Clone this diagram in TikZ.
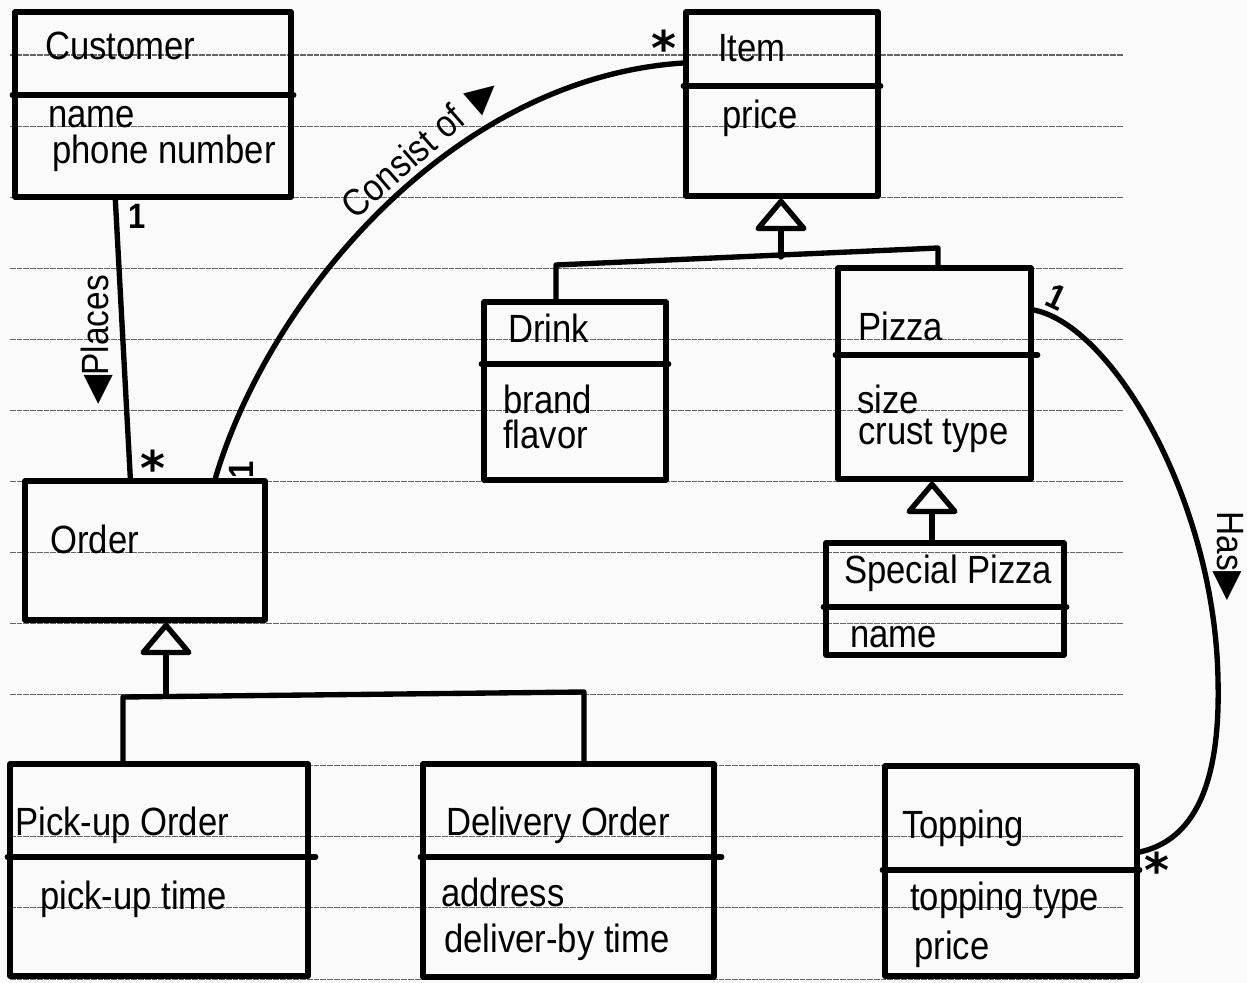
\documentclass[tikz,border=0pt]{standalone}
\usepackage{fontspec}
\setmainfont{Liberation Sans}[FakeStretch=0.88]
\newfontfamily\symf{DejaVu Sans}
\usetikzlibrary{fit,calc,arrows.meta}
\begin{document}
\begin{tikzpicture}[x=0.025cm,y=-0.025cm,
  cls/.style={draw, line width=3.8pt, inner sep=0pt, line join=round},
  div/.style={line width=3.8pt, line cap=round},
  conn/.style={line width=3.8pt, line cap=round, line join=round},
  gen/.style={conn, -{Triangle[open,round,length=0.85cm,width=1.4cm]}},
  lbl/.style={anchor=base west, inner sep=0pt, font=\fontsize{28}{30}\selectfont},
  role/.style={inner sep=0pt, font=\fontsize{27}{29}\selectfont},
  mult/.style={inner sep=0pt, font=\bfseries\fontsize{25}{27}\selectfont},
  star/.style={inner sep=0pt, anchor=north, font=\symf\bfseries\fontsize{34}{36}\selectfont},
  rule/.style={black!60, line width=0.75pt, dash pattern=on 4pt off 0.8pt}]
\useasboundingbox[fill=black!2] (0,0) rectangle (1247,983);
% ruled paper
\foreach \k in {0,...,13} \draw[rule] (10,{55+71.08*\k}) -- (1123,{55+71.08*\k});
% helper y levels
\coordinate (y63) at (0,63);
\coordinate (y310) at (0,310);
\coordinate (y852) at (0,852);
% classes
\node[cls, fit={(15,12) (291,197)}] (customer) {};
\draw[div] (customer.west |- 0,95) -- (customer.east |- 0,95);
\node[lbl] (customerN) at (45,60) {Customer};
\node[lbl] (customerA1) at (48,128) {name};
\node[lbl] (customerA2) at (52,164) {phone number};

\node[cls, fit={(686,12) (878,196)}] (item) {};
\draw[div] (item.west |- 0,86) -- (item.east |- 0,86);
\node[lbl] (itemN) at (718,62) {Item};
\node[lbl] (itemA1) at (722,129) {price};

\node[cls, fit={(484,302) (666,480)}] (drink) {};
\draw[div] (drink.west |- 0,364) -- (drink.east |- 0,364);
\node[lbl] (drinkN) at (508,343) {Drink};
\node[lbl] (drinkA1) at (503,413) {brand};
\node[lbl] (drinkA2) at (503,448) {flavor};

\node[cls, fit={(838,268) (1031,479)}] (pizza) {};
\draw[div] (pizza.west |- 0,355) -- ($(pizza.east |- 0,355)+(4,0)$);
\node[lbl] (pizzaN) at (858,341) {Pizza};
\node[lbl] (pizzaA1) at (857,413) {size};
\node[lbl] (pizzaA2) at (858,444) {crust type};

\node[cls, fit={(826,543) (1064,655)}] (special) {};
\draw[div] (special.west |- 0,607) -- (special.east |- 0,607);
\node[lbl] (specialN) at (844,583) {Special Pizza};
\node[lbl] (specialA1) at (850,647) {name};

\node[cls, fit={(25,481) (265,620)}] (order) {};
\node[lbl] (orderN) at (50,553) {Order};

\node[cls, fit={(10,764) (308,976)}] (pickup) {};
\draw[div] (pickup.west |- 0,857) -- ($(pickup.east |- 0,857)+(5,0)$);
\node[lbl] (pickupN) at (15,835) {Pick-up Order};
\node[lbl] (pickupA1) at (40,909) {pick-up time};

\node[cls, fit={(423,764) (714,977)}] (delivery) {};
\draw[div] (delivery.west |- 0,857) -- ($(delivery.east |- 0,857)+(5,0)$);
\node[lbl] (deliveryN) at (446,835) {Delivery Order};
\node[lbl] (deliveryA1) at (441,906) {address};
\node[lbl] (deliveryA2) at (444,952) {deliver-by time};

\node[cls, fit={(885,766) (1137,976)}] (topping) {};
\draw[div] (topping.west |- 0,870) -- (topping.east |- 0,870);
\node[lbl] (toppingN) at (902,838) {Topping};
\node[lbl] (toppingA1) at (910,910) {topping type};
\node[lbl] (toppingA2) at (914,959) {price};

% generalizations
\coordinate (ogJ) at (166,696);
\coordinate (ogL) at (123,697);
\coordinate (ogR) at (584,692);
\draw[gen] (ogJ) -- (order.south -| ogJ);
\draw[conn] (pickup.north -| ogL) -- (ogL) -- (ogR) -- (delivery.north -| ogR);

\coordinate (igJ) at (781,257);
\coordinate (igL) at (556,265);
\coordinate (igR) at (938,248);
\draw[gen] (igJ) -- (item.south -| igJ);
\draw[conn] (drink.north -| igL) -- (igL) -- (igR) -- (pizza.north -| igR);

\coordinate (pgJ) at (932,543);
\draw[gen] (special.north -| pgJ) -- (pizza.south -| pgJ);

% associations
\draw[conn] ($(customer.south west)+(103,0)$) -- ($(order.north west)+(108,0)$);
\node[mult] (m1) at (137,216) {1};
\node[star] (m2) at (153,450) {*};
\node[role, rotate=90] (places) at (97,340) {{\symf ◀}Places};

\draw[conn] ($(order.north west)+(193,0)$) .. controls (268,300) and (450,78) .. (item.west |- y63);
\node[mult, rotate=90] (m3) at (241,470) {1};
\node[star] (m4) at (664,30) {*};
\node[role, rotate=41] (consist) at (421,148) {Consist of\, {\symf ▶}};

\draw[conn] (pizza.east |- y310) .. controls (1112,325) and (1215,500) .. (1218,680) .. controls (1221,800) and (1185,842) .. (topping.east |- y852);
\node[mult, rotate=-25] (m5) at (1056,297) {1};
\node[star] (m6) at (1157,852) {*};
\node[role, rotate=-90] (has) at (1228,556) {Has{\symf ▶}};
\end{tikzpicture}
\end{document}
